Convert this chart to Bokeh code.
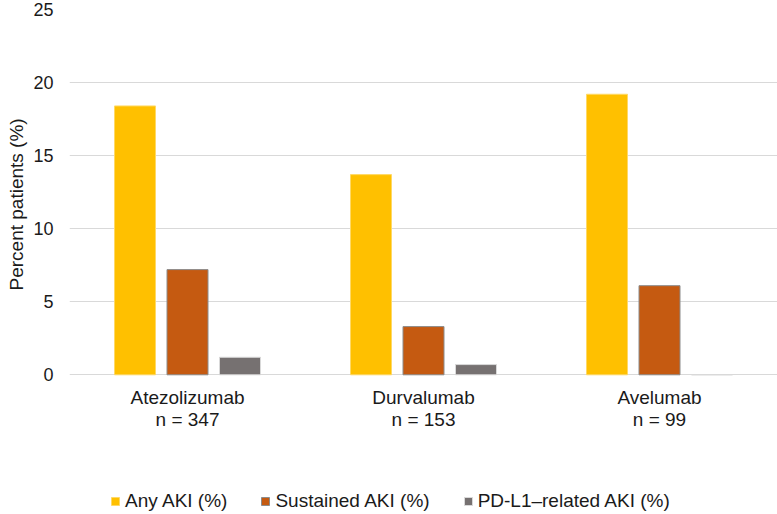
from bokeh.plotting import figure
from bokeh.models import ColumnDataSource, Range1d, FixedTicker, Legend, LegendItem, Title
from bokeh.core.properties import value
from bokeh.transform import dodge
from bokeh.embed import file_html
from bokeh.resources import INLINE

drugs = ["Atezolizumab", "Durvalumab", "Avelumab"]
n_patients = [347, 153, 99]
any_aki = [18.4, 13.7, 19.2]
sustained_aki = [7.2, 3.3, 6.1]
pdl1_aki = [1.2, 0.7, 0.0]
series_names = ["Any AKI (%)", "Sustained AKI (%)", "PD-L1\u2013related AKI (%)"]
y_ticks = [0, 5, 10, 15, 20, 25]

centers = [i + 0.5 for i in range(len(drugs))]
labels = [f"{d}\nn = {n}" for d, n in zip(drugs, n_patients)]
source = ColumnDataSource(dict(x=centers, any=any_aki, sus=sustained_aki, pdl1=pdl1_aki))
lab_src = ColumnDataSource(dict(x=centers, y=[0] * len(drugs), t=labels))

FONT = "Liberation Sans"
TXT = "#1a1a1a"

p = figure(width=777, height=514, output_backend="svg", toolbar_location=None,
           x_range=Range1d(0, len(drugs)), y_range=Range1d(-9.56, 25),
           x_axis_location=None,
           min_border_left=69, min_border_right=0, min_border_top=9, min_border_bottom=0)
p.outline_line_color = None

bw = 41 / 236
off = 52.5 / 236
colors = ["#FFC000", "#C55A11", "#767171"]
lines = ["#FFD966", "#8C8C8C", "#D9D9D9"]
fields = ["any", "sus", "pdl1"]
renderers = []
for k, (f, c, lc) in enumerate(zip(fields, colors, lines)):
    r = p.vbar(x=dodge("x", (k - 1) * off), top=f, width=bw, source=source,
               fill_color=c, line_color=lc, line_width=1)
    renderers.append(r)

p.text(x="x", y="y", text="t", source=lab_src, text_align="center", text_baseline="top",
       y_offset=12, text_font=value(FONT), text_font_size="19px", text_color=TXT,
       text_line_height=1.05)

p.xgrid.grid_line_color = None
p.ygrid.grid_line_color = "#d9d9d9"
p.ygrid.grid_line_width = 1

p.yaxis.ticker = FixedTicker(ticks=y_ticks)
p.yaxis.axis_line_color = None
p.yaxis.major_tick_line_color = None
p.yaxis.minor_tick_line_color = None
p.yaxis.major_label_text_font = FONT
p.yaxis.major_label_text_font_size = "18px"
p.yaxis.major_label_text_color = TXT
p.yaxis.major_label_standoff = 10

ylab = Title(text="Percent patients (%)", align="left", offset=224, standoff=7,
             text_font=FONT, text_font_size="19px", text_font_style="normal", text_color=TXT)
p.add_layout(ylab, "left")

legend = Legend(items=[LegendItem(label=s, renderers=[r]) for s, r in zip(series_names, renderers)],
                orientation="horizontal", location=(41, 2))
legend.border_line_color = None
legend.background_fill_alpha = 0
legend.label_text_font = FONT
legend.label_text_font_size = "19px"
legend.label_text_color = TXT
legend.glyph_width = 10
legend.glyph_height = 10
legend.label_height = 12
legend.label_standoff = 5
legend.spacing = 33
legend.padding = 0
legend.margin = 0
p.add_layout(legend, "center")

open("out.html", "w").write(file_html(p, INLINE))
